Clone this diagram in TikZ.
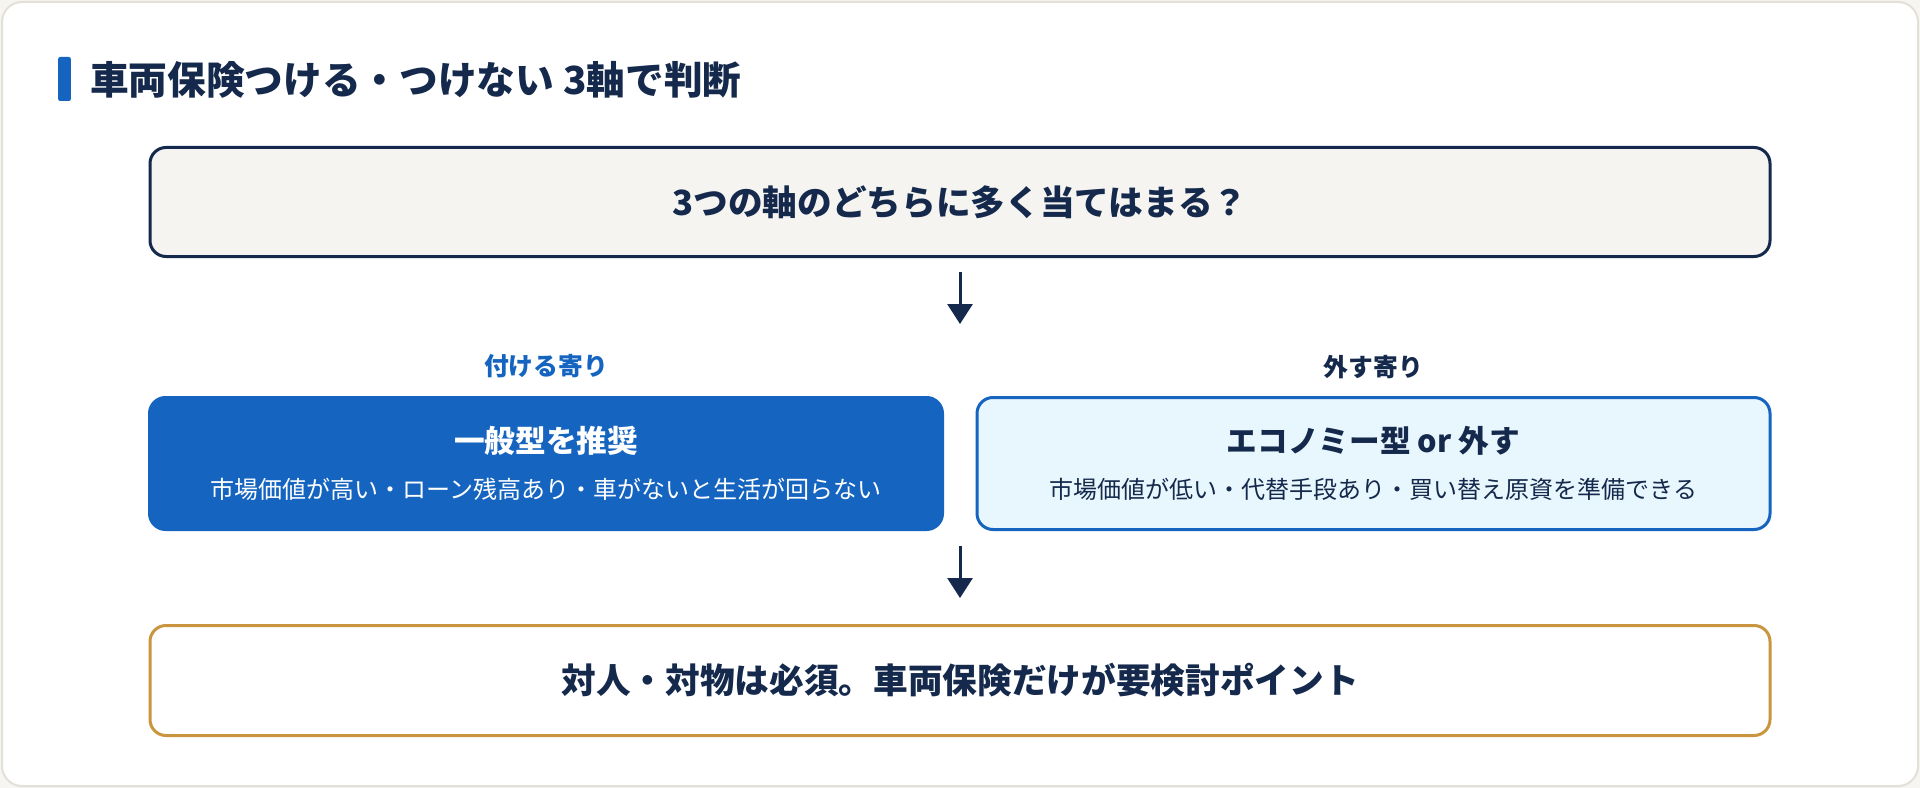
\documentclass[tikz,border=0pt]{standalone}
\usepackage{fontspec}
\setmainfont{Noto Sans CJK JP}
\usepackage{tikz}
\usetikzlibrary{positioning,arrows.meta}

\definecolor{navy}{HTML}{14294B}
\definecolor{brandblue}{HTML}{1565C0}
\definecolor{paleblue}{HTML}{E8F6FD}
\definecolor{paper}{HTML}{F5F4F0}
\definecolor{gold}{HTML}{C9963F}
\definecolor{cardline}{HTML}{E3E1D7}
\definecolor{backdrop}{HTML}{F6F5F1}

\newcommand\headfont{\fontsize{23}{28}\selectfont\bfseries}

\begin{document}
\begin{tikzpicture}[
    x=0.75pt, y=-0.75pt,
    box/.style={rectangle, rounded corners=12pt, line width=2.25pt, inner sep=0pt},
    ask/.style={box, draw=navy, fill=paper, minimum width=1215pt, minimum height=81.75pt, text=navy, font=\fontsize{26}{31}\selectfont\bfseries},
    keep/.style={box, draw=brandblue, fill=brandblue, minimum width=594.75pt, minimum height=99pt, text=white, align=center, font=\fontsize{18}{22}\selectfont},
    drop/.style={box, draw=brandblue, fill=paleblue, minimum width=594.75pt, minimum height=99pt, text=navy, align=center, font=\fontsize{18}{22}\selectfont},
    must/.style={box, draw=gold, fill=white, minimum width=1215pt, minimum height=82.5pt, text=navy, font=\fontsize{26}{31}\selectfont\bfseries},
    sidenote/.style={inner sep=0pt, font=\fontsize{18.6}{22}\selectfont\bfseries},
    heading/.style={inner sep=0pt, text=navy, font=\fontsize{29}{34}\selectfont\bfseries},
    flag/.style={rectangle, fill=brandblue, minimum width=9.5pt, minimum height=33pt, inner sep=0pt, rounded corners=1.5pt},
    flow/.style={-{Triangle[width=18.75pt,length=15pt]}, line width=2.25pt, draw=navy}
]
    % page and card
    \useasboundingbox (0,0) rectangle (1920,788);
    \fill[backdrop] (0,0) rectangle (1920,788);
    \draw[cardline, fill=white, line width=1.5pt, rounded corners=15pt] (2,2) rectangle (1918,786);

    % title
    \node[flag] (flag) at (64.5,79) {};
    \node[heading, anchor=west] (title) at (90,80) {車両保険つける・つけない 3軸で判断};

    % question
    \node[ask] (ask) at (960,202) {3つの軸のどちらに多く当てはまる？};

    % two sides
    \node[keep] (keep) at (546,463.5) {{\headfont 一般型を推奨}\\[13pt]市場価値が高い・ローン残高あり・車がないと生活が回らない};
    \node[drop] (drop) at (1373.5,463.5) {{\headfont エコノミー型 or 外す}\\[13pt]市場価値が低い・代替手段あり・買い替え原資を準備できる};
    \node[sidenote, text=brandblue, above=13pt of keep] (keepnote) {付ける寄り};
    \node[sidenote, text=navy, above=13pt of drop] (dropnote) {外す寄り};

    % conclusion
    \node[must] (must) at (960,680.5) {対人・対物は必須。車両保険だけが要検討ポイント};

    % arrows
    \coordinate (fork) at (960,324);
    \coordinate (merge) at (960,546);
    \draw[flow, shorten <=10.5pt] (ask) -- (fork);
    \draw[flow, shorten >=19.5pt] (merge) -- (must);
\end{tikzpicture}
\end{document}
